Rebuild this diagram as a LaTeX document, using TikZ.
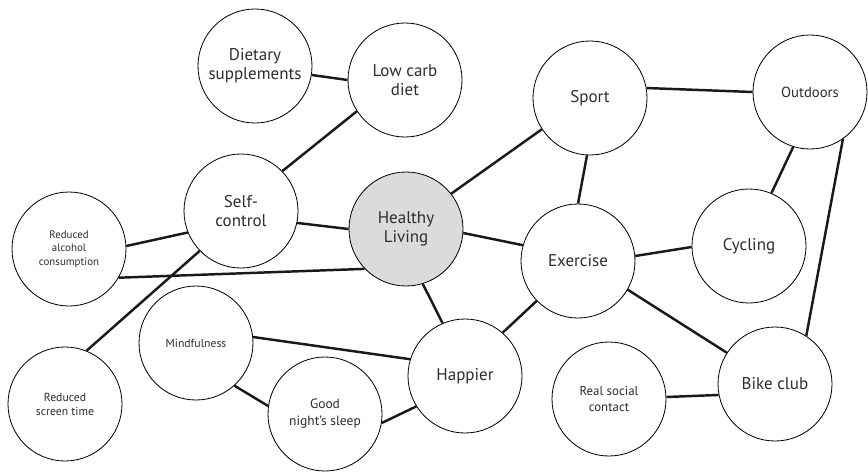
\documentclass[tikz,border=0pt]{standalone}
\usepackage{fontspec}
\setmainfont{PT Sans}
\usepackage{tikz}
\usetikzlibrary{positioning}
\definecolor{hubgray}{RGB}{218,219,220}
\definecolor{inkgray}{RGB}{45,45,45}
\tikzset{
  bubble/.style={draw, circle, line width=0.7pt, fill=white, minimum size=3.42cm, inner sep=0pt, align=center, text=inkgray},
  hubbubble/.style={bubble, fill=hubgray},
  link/.style={line width=2.1pt, black!90},
  bigtext/.style={font=\fontsize{14.5}{16}\selectfont},
  midtext/.style={font=\fontsize{12.5}{14}\selectfont},
  sleeptext/.style={font=\fontsize{11.5}{14.5}\selectfont},
  socialtext/.style={font=\fontsize{11}{13.5}\selectfont},
  smalltext/.style={font=\fontsize{10}{12}\selectfont},
  tinytext/.style={font=\fontsize{9.3}{11.5}\selectfont}
}
\begin{document}
\begin{tikzpicture}
  \useasboundingbox (0,0) rectangle (26.04,14.13);
  % the hub
  \node[hubbubble, bigtext] (healthy) at (12.18,7.26) {Healthy\\ Living};
  % diet side
  \node[bubble, bigtext] (diet) at (7.65,12.15) {Dietary\\ supplements};
  \node[bubble, bigtext] (lowcarb) at (12.15,11.73) {Low carb\\ diet};
  \node[bubble, bigtext] (selfctl) at (7.23,7.80) {Self-\\ control};
  \node[bubble, tinytext] (alcohol) at (2.07,6.66) {Reduced\\ alcohol\\ consumption};
  \node[bubble, smalltext] (screen) at (1.95,2.01) {Reduced\\ screen time};
  % wellbeing side
  \node[bubble, smalltext] (mindful) at (5.88,3.84) {Mindfulness};
  \node[bubble, sleeptext] (sleep) at (9.75,1.71) {Good\\ night’s sleep};
  \node[bubble, bigtext] (happier) at (13.95,2.85) {Happier};
  % activity side
  \node[bubble, bigtext] (sport) at (17.70,11.19) {Sport};
  \node[bubble, midtext] (outdoors) at (24.30,11.37) {Outdoors};
  \node[bubble, bigtext] (exercise) at (17.34,6.30) {Exercise};
  \node[bubble, bigtext] (cycling) at (22.47,6.75) {Cycling};
  \node[bubble, bigtext] (bikeclub) at (23.25,2.61) {Bike club};
  \node[bubble, socialtext] (social) at (18.27,2.16) {Real social\\ contact};

  \draw[link] (diet.-9) -- (lowcarb.180);
  \draw[link] (lowcarb.213) -- (selfctl.44);
  \draw[link] (selfctl.-12) -- (healthy.180);
  \draw[link] (selfctl.202) -- (alcohol.3);
  \draw[link] (selfctl.224) -- (screen.68);
  \draw[link] (alcohol.-30) -- (healthy.224);
  \draw[link] (healthy.38) -- (sport.213);
  \draw[link] (healthy.-4) -- (exercise.164);
  \draw[link] (healthy.-73) -- (happier.113);
  \draw[link] (sport.-93) -- (exercise.90);
  \draw[link] (sport.10) -- (outdoors.180);
  \draw[link] (outdoors.253) -- (cycling.67);
  \draw[link] (outdoors.-55) -- (bikeclub.57);
  \draw[link] (exercise.5) -- (cycling.181);
  \draw[link] (exercise.224) -- (happier.49);
  \draw[link] (exercise.-30) -- (bikeclub.147);
  \draw[link] (bikeclub.191) -- (social.2);
  \draw[link] (mindful.6) -- (happier.163);
  \draw[link] (sleep.-9) -- (happier.212);
  \draw[link] (mindful.-48) -- (sleep.172);
\end{tikzpicture}
\end{document}
